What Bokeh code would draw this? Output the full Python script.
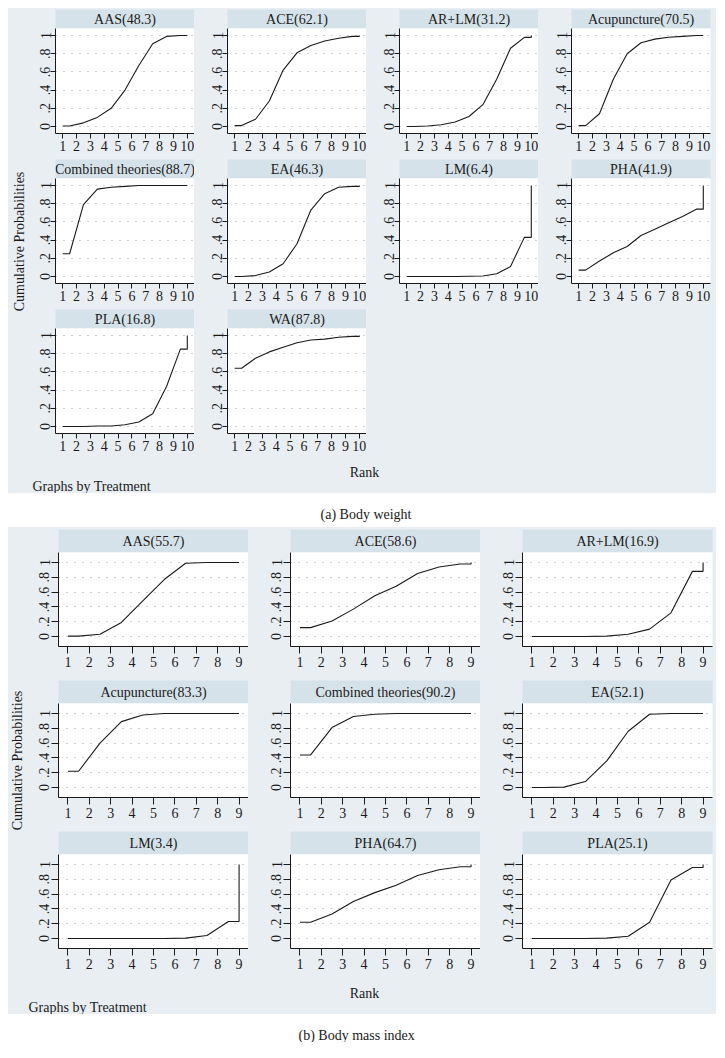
import math
from bokeh.plotting import figure
from bokeh.layouts import row, column
from bokeh.models import FixedTicker, Spacer
from bokeh.embed import file_html
from bokeh.resources import INLINE
from bokeh.core.properties import value

FONT = "Liberation Serif"
BG = "#e8eef2"
STRIP = "#d6e2e9"
INK = "#1a1a1a"
GRID = "#a0a0a0"

# ---------------- (a) Body weight : 10 ranks ----------------
# cumulative probability of ranking within the best k (k = 1..9); rank 10 -> 1
bw_ranks = [1, 2, 3, 4, 5, 6, 7, 8, 9, 10]
bw_names = ["AAS", "ACE", "AR+LM", "Acupuncture", "Combined theories",
            "EA", "LM", "PHA", "PLA", "WA"]
bw_sucra = [48.3, 62.1, 31.2, 70.5, 88.7, 46.3, 6.4, 41.9, 16.8, 87.8]
bw_aas = [0.005, 0.04, 0.10, 0.20, 0.40, 0.67, 0.91, 0.99, 1.00]
bw_ace = [0.01, 0.08, 0.28, 0.62, 0.81, 0.89, 0.94, 0.97, 0.99]
bw_arlm = [0.0, 0.005, 0.02, 0.05, 0.11, 0.24, 0.52, 0.86, 0.98]
bw_acup = [0.01, 0.14, 0.52, 0.80, 0.92, 0.96, 0.98, 0.99, 1.00]
bw_comb = [0.25, 0.79, 0.96, 0.98, 0.99, 1.00, 1.00, 1.00, 1.00]
bw_ea = [0.0, 0.01, 0.05, 0.14, 0.36, 0.73, 0.91, 0.98, 0.99]
bw_lm = [0.0, 0.0, 0.0, 0.0, 0.003, 0.005, 0.03, 0.11, 0.43]
bw_pha = [0.07, 0.17, 0.26, 0.33, 0.45, 0.52, 0.59, 0.66, 0.74]
bw_pla = [0.0, 0.0, 0.005, 0.005, 0.02, 0.05, 0.14, 0.44, 0.85]
bw_wa = [0.64, 0.75, 0.82, 0.87, 0.92, 0.95, 0.96, 0.98, 0.99]

# ---------------- (b) Body mass index : 9 ranks ----------------
bm_ranks = [1, 2, 3, 4, 5, 6, 7, 8, 9]
bm_names = ["AAS", "ACE", "AR+LM", "Acupuncture", "Combined theories",
            "EA", "LM", "PHA", "PLA"]
bm_sucra = [55.7, 58.6, 16.9, 83.3, 90.2, 52.1, 3.4, 64.7, 25.1]
bm_aas = [0.005, 0.03, 0.19, 0.48, 0.77, 0.99, 1.00, 1.00]
bm_ace = [0.12, 0.21, 0.37, 0.55, 0.68, 0.85, 0.94, 0.98]
bm_arlm = [0.0, 0.0, 0.0, 0.005, 0.03, 0.10, 0.32, 0.88]
bm_acup = [0.22, 0.60, 0.89, 0.98, 1.00, 1.00, 1.00, 1.00]
bm_comb = [0.44, 0.81, 0.96, 0.99, 1.00, 1.00, 1.00, 1.00]
bm_ea = [0.0, 0.005, 0.08, 0.36, 0.76, 0.99, 1.00, 1.00]
bm_lm = [0.0, 0.0, 0.0, 0.0, 0.0, 0.005, 0.04, 0.23]
bm_pha = [0.22, 0.33, 0.50, 0.62, 0.72, 0.85, 0.93, 0.97]
bm_pla = [0.0, 0.0, 0.0, 0.005, 0.03, 0.22, 0.79, 0.96]

y_ticks = [0, 0.2, 0.4, 0.6, 0.8, 1]
y_tick_labels = ["0", ".2", ".4", ".6", ".8", "1"]

bw_cums = [bw_aas, bw_ace, bw_arlm, bw_acup, bw_comb, bw_ea, bw_lm, bw_pha, bw_pla, bw_wa]
bm_cums = [bm_aas, bm_ace, bm_arlm, bm_acup, bm_comb, bm_ea, bm_lm, bm_pha, bm_pla]

GEO_A = dict(ncols=4, fw=139, bl_first=27, bl=33, br_last=6, sh=19, fh=105, bh=26,
             top=1, xr=(0.48, 10.52), yr=(-0.077, 1.077), tick=5, xstand=2, ystand=0,
             fs="14px", tfs="14px", bottom=34, ylab_x=11, ylab_y=233,
             rank_x=356, rank_y=13, gbt_x=24, gbt_y=27)
GEO_B = dict(ncols=3, fw=190, bl_first=30, bl=42, br_last=4, sh=23, fh=94, bh=34,
             top=2, xr=(0.56, 9.44), yr=(-0.135, 1.135), tick=7, xstand=3, ystand=2,
             fs="14px", tfs="14px", bottom=32, ylab_x=9, ylab_y=233,
             rank_x=356, rank_y=11, gbt_x=20, gbt_y=25)
PANEL_W = 708


def make_cell(title, cum, ranks, g, bl, br):
    n = len(ranks)
    xs = [ranks[0], ranks[0] + 0.5] + [r + 0.5 for r in ranks[1:n - 1]] + [ranks[-1], ranks[-1]]
    ys = [cum[0], cum[0]] + list(cum[1:]) + [cum[-1], 1.0]
    w = bl + g["fw"] + br
    strip = figure(width=w, height=g["sh"], x_range=(0, 1), y_range=(0, 1),
                   x_axis_type=None, y_axis_type=None, toolbar_location=None,
                   output_backend="svg", title=None,
                   min_border_left=bl, min_border_right=br, min_border_top=0, min_border_bottom=0,
                   background_fill_color=STRIP, border_fill_color=BG, outline_line_color=None)
    strip.text(x=[0.5], y=[0.5], text=[title], text_align="center", text_baseline="middle",
               text_font=value(FONT), text_font_size=value(g["fs"]), text_color=INK)
    p = figure(width=w, height=g["fh"] + g["bh"], x_range=g["xr"], y_range=g["yr"],
               toolbar_location=None, output_backend="svg", title=None,
               min_border_left=bl, min_border_right=br, min_border_top=0,
               min_border_bottom=g["bh"],
               background_fill_color="white", border_fill_color=BG, outline_line_color=None)
    p.line(xs, ys, line_color=INK, line_width=1.1)
    p.xaxis.ticker = FixedTicker(ticks=ranks)
    p.yaxis.ticker = FixedTicker(ticks=y_ticks)
    p.yaxis.major_label_overrides = dict(zip(y_ticks, y_tick_labels))
    p.yaxis.major_label_orientation = "vertical"
    p.xaxis.major_label_standoff = g["xstand"]
    p.yaxis.major_label_standoff = g["ystand"]
    for ax in (p.xaxis[0], p.yaxis[0]):
        ax.axis_line_color = INK
        ax.axis_line_width = 1
        ax.major_tick_line_color = INK
        ax.major_tick_out = g["tick"]
        ax.major_tick_in = 0
        ax.minor_tick_line_color = None
        ax.major_label_text_font = FONT
        ax.major_label_text_font_size = g["tfs"]
        ax.major_label_text_color = INK
    p.xgrid.visible = False
    p.ygrid.grid_line_color = GRID
    p.ygrid.grid_line_dash = "1 7"
    p.ygrid.grid_line_width = 1
    return column(strip, p)


def make_panel(names, scores, cums, ranks, g):
    ncols = g["ncols"]
    cells = []
    for i, (nm, sc, cum) in enumerate(zip(names, scores, cums)):
        c = i % ncols
        bl = g["bl_first"] if c == 0 else g["bl"]
        br = g["br_last"] if c == ncols - 1 else 0
        cells.append(make_cell(f"{nm}({sc})", cum, ranks, g, bl, br))
    rows = [row(*cells[i:i + ncols]) for i in range(0, len(cells), ncols)]
    nrows = len(rows)
    row_h = g["sh"] + g["fh"] + g["bh"]
    grid = column(Spacer(width=1, height=g["top"]), *rows)
    H = g["top"] + nrows * row_h
    ylab = figure(width=20, height=H, x_range=(0, 20), y_range=(H, 0),
                  x_axis_type=None, y_axis_type=None, toolbar_location=None,
                  output_backend="svg", title=None, min_border=0,
                  background_fill_color=BG, border_fill_color=BG, outline_line_color=None)
    ylab.text(x=[g["ylab_x"]], y=[g["ylab_y"]], text=["Cumulative Probabilities"],
              angle=math.pi / 2, text_align="center", text_baseline="middle",
              text_font=value(FONT), text_font_size=value("14px"), text_color=INK)
    bot = figure(width=PANEL_W, height=g["bottom"], x_range=(0, PANEL_W), y_range=(g["bottom"], 0),
                 x_axis_type=None, y_axis_type=None, toolbar_location=None,
                 output_backend="svg", title=None, min_border=0,
                 background_fill_color=BG, border_fill_color=BG, outline_line_color=None)
    bot.text(x=[g["rank_x"]], y=[g["rank_y"]], text=["Rank"], text_align="center",
             text_baseline="alphabetic", text_font=value(FONT), text_font_size=value("14px"),
             text_color=INK)
    bot.text(x=[g["gbt_x"]], y=[g["gbt_y"]], text=["Graphs by Treatment"], text_align="left",
             text_baseline="alphabetic", text_font=value(FONT), text_font_size=value("14px"),
             text_color=INK)
    return column(row(ylab, grid), bot, styles={"background-color": BG})


def make_caption(txt, h, x, y):
    c = figure(width=PANEL_W + 1, height=h, x_range=(0, PANEL_W + 1), y_range=(h, 0),
               x_axis_type=None, y_axis_type=None, toolbar_location=None,
               output_backend="svg", title=None, min_border=0,
               background_fill_color="white", border_fill_color="white", outline_line_color=None)
    c.text(x=[x], y=[y], text=[txt], text_align="left", text_baseline="alphabetic",
           text_font=value(FONT), text_font_size=value("14px"), text_color=INK)
    return c


panel_a = make_panel(bw_names, bw_sucra, bw_cums, bw_ranks, GEO_A)
cap_a = make_caption("(a)  Body weight", 34, 312, 21)
panel_b = make_panel(bm_names, bm_sucra, bm_cums, bm_ranks, GEO_B)
cap_b = make_caption("(b)  Body mass index", 28, 290, 21)

content = column(panel_a, cap_a, panel_b, cap_b)
layout = row(Spacer(width=8, height=8), column(Spacer(width=8, height=8), content))
open("out.html", "w").write(file_html(layout, INLINE))
